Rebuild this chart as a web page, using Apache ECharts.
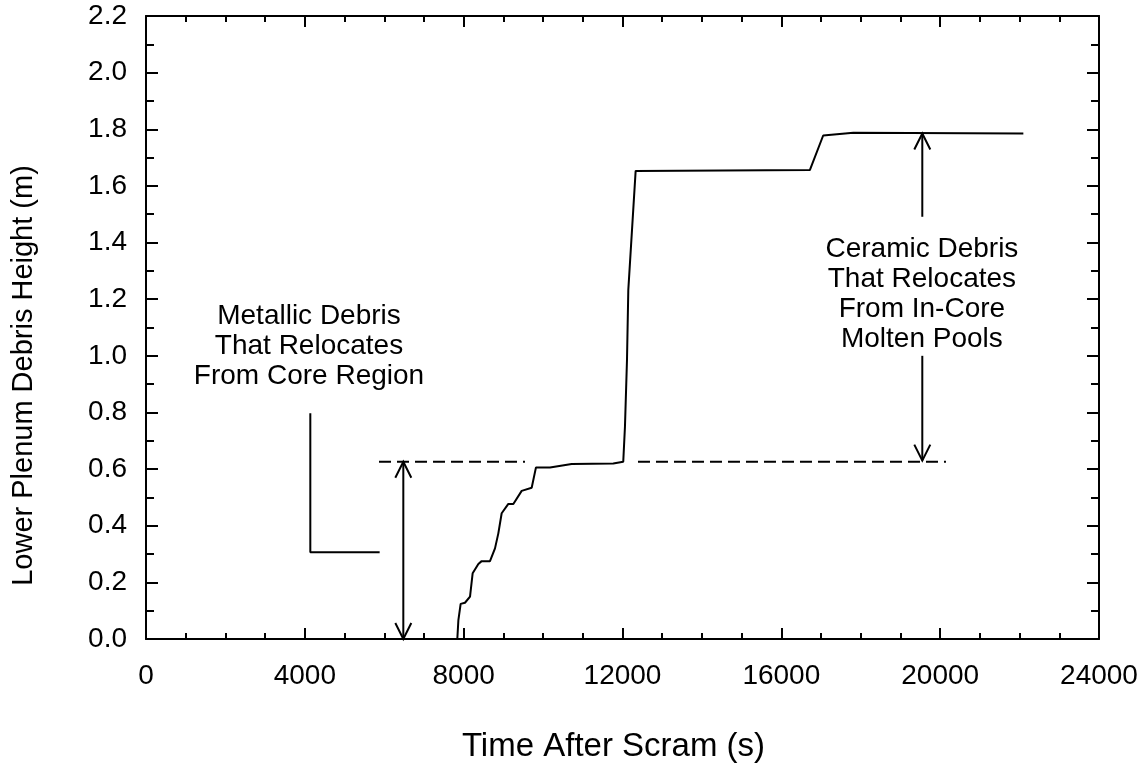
<!DOCTYPE html>
<html>
<head>
<meta charset="utf-8">
<title>Lower Plenum Debris Height</title>
<script src="https://cdn.jsdelivr.net/npm/echarts@6/dist/echarts.min.js"></script>
<style>
    html, body { margin: 0; padding: 0; background: #fff; }
    #chart { width: 1143px; height: 764px; }
</style>
</head>
<body>
<div id="chart"></div>
<script>
    // curve: time (s) and debris height (m)
    var timeS = [7840, 7867, 7924, 8033, 8160, 8226, 8370, 8453, 8663, 8789, 8873, 8957, 9125, 9251,
        9461, 9713, 9821, 10174, 10720, 11767, 12019, 12062, 12113, 12146, 12331, 16718, 17054, 17813, 22095];
    var heightM = [0, 0.067, 0.124, 0.128, 0.15, 0.232, 0.265, 0.275, 0.275, 0.32, 0.373, 0.444, 0.477, 0.477,
        0.523, 0.534, 0.606, 0.606, 0.618, 0.62, 0.626, 0.75, 0.985, 1.232, 1.653, 1.656, 1.778, 1.788, 1.785];

    // annotations (data coordinates)
    var dashStart = [5868, 12390];
    var dashEnd = [9544, 20146];
    var dashLevel = 0.626;
    var bracketPts = [[4138, 0.797], [4138, 0.306], [5884, 0.306]];
    // x, from y, to y (tip), 1 = head at both ends
    var arrows = [[6480, 0.3, 0.626, 1], [19550, 1.491, 1.785, 0], [19550, 1.0, 0.63, 0]];
    var noteText = ['Metallic Debris\nThat Relocates\nFrom Core Region', 'Ceramic Debris\nThat Relocates\nFrom In-Core\nMolten Pools'];
    var notePos = [[4105, 1.035], [19540, 1.219]];

    var font = 'Liberation Sans';

    var chart = echarts.init(document.getElementById('chart'));

    function tickAxis(pos, isX, showLabel) {
        var ax = {
            type: 'value',
            position: pos,
            min: 0,
            max: isX ? 24000 : 2.2,
            interval: isX ? 4000 : 0.2,
            axisLine: { show: true, onZero: false, lineStyle: { color: '#000', width: 2 } },
            axisTick: { show: true, inside: true, length: isX ? 11 : 12, lineStyle: { color: '#000', width: 2 } },
            minorTick: { show: true, splitNumber: isX ? 4 : 2, length: isX ? 6 : 8, lineStyle: { color: '#000', width: 2 } },
            splitLine: { show: false },
            axisLabel: {
                show: showLabel,
                color: '#000',
                fontFamily: font,
                fontSize: 28,
                margin: isX ? 23 : 19,
                formatter: isX ? function (v) { return String(v); } : function (v) { return v.toFixed(1); }
            }
        };
        return ax;
    }

    var xBottom = tickAxis('bottom', true, true);
    xBottom.name = 'Time After Scram (s)';
    xBottom.nameLocation = 'middle';
    xBottom.nameGap = 91;
    xBottom.nameTextStyle = { color: '#000', fontFamily: font, fontSize: 33, padding: [0, 18, 0, 0] };

    var yLeft = tickAxis('left', false, true);
    yLeft.name = 'Lower Plenum Debris Height (m)';
    yLeft.nameLocation = 'middle';
    yLeft.nameGap = 108;
    yLeft.nameTextStyle = { color: '#000', fontFamily: font, fontSize: 29, padding: [0, 96, 0, 0] };

    var curve = timeS.map(function (t, i) { return [t, heightM[i]]; });

    var series = [{
        name: 'height',
        type: 'line',
        data: curve,
        showSymbol: false,
        symbol: 'none',
        lineStyle: { color: '#000', width: 2 },
        animation: false
    }, {
        type: 'line',
        data: bracketPts,
        symbol: 'none',
        lineStyle: { color: '#000', width: 2 },
        animation: false
    }];

    dashStart.forEach(function (x0, i) {
        series.push({
            type: 'line',
            data: [[x0, dashLevel], [dashEnd[i], dashLevel]],
            symbol: 'none',
            lineStyle: { color: '#000', width: 2, type: [12, 6] },
            animation: false
        });
    });

    function arrowHead(tip, dir) {
        // open V head, dir = +1 pointing down the screen, -1 up
        return {
            type: 'polyline',
            shape: { points: [[tip[0] - 8, tip[1] - dir * 16], tip, [tip[0] + 8, tip[1] - dir * 16]] },
            style: { stroke: '#000', lineWidth: 2, fill: null }
        };
    }

    series.push({
        type: 'custom',
        data: arrows,
        animation: false,
        renderItem: function (params, api) {
            var x = api.value(0);
            var p1 = api.coord([x, api.value(1)]);
            var p2 = api.coord([x, api.value(2)]);
            var dir = p2[1] > p1[1] ? 1 : -1;
            var kids = [{
                type: 'line',
                shape: { x1: p1[0], y1: p1[1], x2: p2[0], y2: p2[1] },
                style: { stroke: '#000', lineWidth: 2 }
            }, arrowHead(p2, dir)];
            if (api.value(3) === 1) {
                // second head at the axis end
                var pb = api.coord([x, 0]);
                kids[0].shape.y1 = pb[1];
                kids.push(arrowHead(pb, 1));
                kids[1] = arrowHead(p2, -1);
            }
            return { type: 'group', children: kids };
        }
    });

    series.push({
        type: 'custom',
        data: notePos,
        animation: false,
        renderItem: function (params, api) {
            var p = api.coord([api.value(0), api.value(1)]);
            return {
                type: 'text',
                x: p[0],
                y: p[1],
                style: {
                    text: noteText[params.dataIndex],
                    fill: '#000',
                    font: '28px "' + font + '"',
                    align: 'center',
                    verticalAlign: 'middle',
                    lineHeight: 30
                }
            };
        }
    });

    chart.setOption({
        backgroundColor: '#fff',
        animation: false,
        grid: { left: 146, top: 16, right: 44, bottom: 125, containLabel: false, outerBoundsMode: 'none' },
        xAxis: [xBottom, tickAxis('top', true, false)],
        yAxis: [yLeft, tickAxis('right', false, false)],
        series: series
    });
</script>
</body>
</html>
